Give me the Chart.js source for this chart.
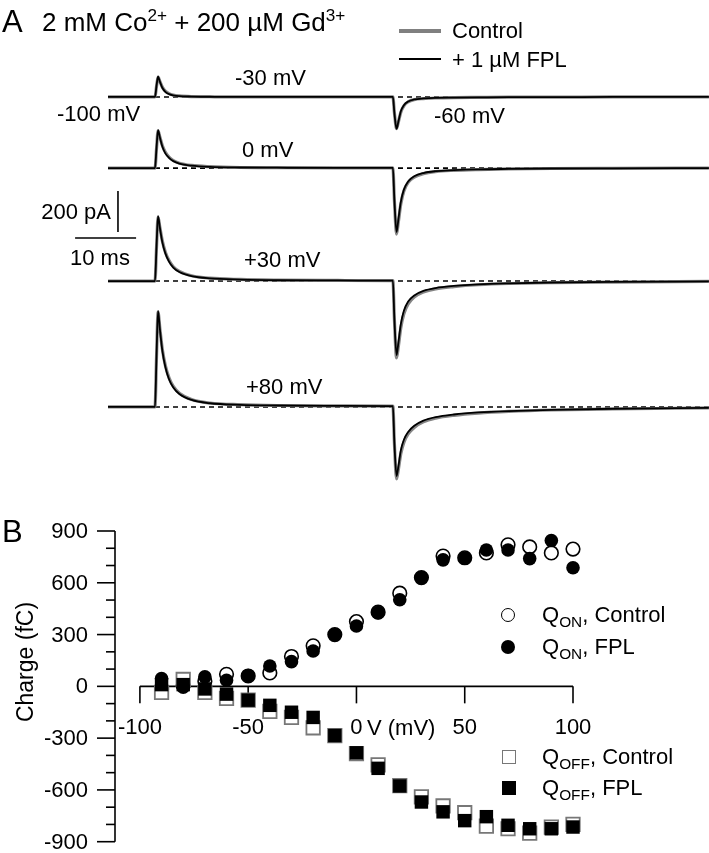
<!DOCTYPE html>
<html>
<head>
<meta charset="utf-8">
<script src="https://cdn.jsdelivr.net/npm/chart.js@4"></script>
<style>
  body { margin: 0; background: #fff; }
  #fig { position: relative; width: 709px; height: 853px; overflow: hidden; background: #fff;
         font-family: "Liberation Sans", Arial, sans-serif; color: #000; }
  #fig canvas { position: absolute; left: 0; }
  .t { position: absolute; white-space: nowrap; line-height: 1; font-size: 22px; }
  .t sup { font-size: 0.66em; position: relative; top: -0.6em; vertical-align: baseline; line-height: 0; }
  .t sub { font-size: 0.7em; position: relative; top: 0.35em; vertical-align: baseline; line-height: 0; }
  .key { position: absolute; box-sizing: border-box; }
</style>
</head>
<body>
<div id="fig">
  <canvas id="chartA" width="709" height="500" style="top:0"></canvas>
  <canvas id="chartB" width="709" height="353" style="top:500px"></canvas>

  <!-- panel A text -->
  <div class="t" style="left:2px;top:6px;font-size:31px">A</div>
  <div class="t" style="left:42px;top:9px;font-size:26px">2 mM Co<sup>2+</sup> + 200 µM Gd<sup>3+</sup></div>
  <div class="key" style="left:399px;top:29px;width:42px;height:4px;background:#808080"></div>
  <div class="t" style="left:452px;top:20px">Control</div>
  <div class="key" style="left:399px;top:58px;width:42px;height:2px;background:#000"></div>
  <div class="t" style="left:452px;top:49px">+ 1 µM FPL</div>
  <div class="t" style="left:235px;top:67px">-30 mV</div>
  <div class="t" style="left:57px;top:103px">-100 mV</div>
  <div class="t" style="left:434px;top:105px">-60 mV</div>
  <div class="t" style="left:242px;top:139px">0 mV</div>
  <div class="t" style="right:598px;top:201px">200 pA</div>
  <div class="t" style="left:70px;top:247px">10 ms</div>
  <div class="t" style="left:244px;top:249px">+30 mV</div>
  <div class="t" style="left:246px;top:376px">+80 mV</div>

  <!-- panel B text -->
  <div class="t" style="left:2px;top:516px;font-size:31px">B</div>
  <div class="t" style="left:25px;top:662px;font-size:23px;transform:translate(-50%,-50%) rotate(-90deg)">Charge (fC)</div>
  <div class="t" style="left:367px;top:717px">V (mV)</div>

  <div class="key" style="left:501px;top:608px;width:14px;height:14px;border:1.5px solid #000;border-radius:50%;background:#fff"></div>
  <div class="t" style="left:542px;top:604px">Q<sub>ON</sub>, Control</div>
  <div class="key" style="left:501px;top:640px;width:14px;height:14px;border-radius:50%;background:#000"></div>
  <div class="t" style="left:542px;top:636px">Q<sub>ON</sub>, FPL</div>
  <div class="key" style="left:502px;top:750px;width:14px;height:14px;border:1.8px solid #777;background:#fff"></div>
  <div class="t" style="left:542px;top:746px">Q<sub>OFF</sub>, Control</div>
  <div class="key" style="left:502px;top:781px;width:14px;height:14px;background:#000"></div>
  <div class="t" style="left:542px;top:777px">Q<sub>OFF</sub>, FPL</div>
</div>

<script>
// ---- Panel A: gating currents (pA), time in ms from the start of the step ----
const traceTime = [-7.7, -0.2, 0, 0.25, 0.5, 0.8, 1.2, 1.7, 2.3, 3, 4, 6, 9, 14, 20, 30, 38.8,
                   39, 39.25, 39.6, 39.9, 40.3, 40.8, 41.5, 42.5, 44, 46, 49, 53, 58, 65, 75, 90.8];

// -30 mV
const ctrlM30 = [0, 0, 0, 52, 97, 76, 48, 28, 16, 9, 5, 2, 1, 0, 0, 0, 0,
                 0, -78, -154, -122, -74, -43, -24, -13, -8, -5, -3, -2, -1, -1, 0, 0];
const fplM30 = [0, 0, 0, 55, 100, 75, 45, 25, 14, 8, 4, 2, 1, 0, 0, 0, 0,
                0, -80, -156, -120, -70, -40, -22, -12, -7, -4, -3, -2, -1, -1, 0, 0];
// 0 mV
const ctrl0 = [0, 0, 0, 95, 182, 152, 110, 77, 54, 37, 24, 13, 7, 3, 2, 1, 1,
               1, -160, -322, -262, -175, -112, -70, -44, -27, -17, -11, -7, -4, -2, -1, 0];
const fpl0 = [0, 0, 0, 100, 185, 150, 105, 72, 50, 34, 22, 12, 6, 3, 2, 1, 1,
              1, -160, -312, -250, -165, -105, -65, -40, -24, -15, -10, -6, -4, -2, -1, 0];
// +30 mV
const ctrlP30 = [0, 0, 0, 165, 312, 262, 196, 141, 100, 70, 47, 26, 14, 8, 5, 3, 2,
                 2, -190, -375, -318, -228, -160, -112, -78, -54, -38, -27, -18, -12, -8, -5, -2];
const fplP30 = [0, 0, 0, 170, 317, 260, 190, 135, 95, 66, 44, 24, 13, 7, 4, 3, 2,
                2, -190, -361, -300, -210, -145, -100, -70, -48, -34, -24, -16, -11, -7, -4, -2];
// +80 mV
const ctrlP80 = [0, 0, 0, 245, 462, 383, 282, 202, 142, 100, 67, 36, 19, 11, 7, 5, 4,
                 4, -180, -351, -305, -228, -173, -132, -100, -73, -55, -41, -30, -22, -15, -10, -5];
const fplP80 = [0, 0, 0, 250, 468, 380, 275, 195, 135, 95, 63, 34, 18, 10, 7, 5, 4,
                4, -180, -337, -290, -212, -160, -122, -92, -67, -50, -37, -27, -20, -14, -9, -5];

const scaleBarPA = 200;
const scaleBarMS = 10;

// ---- Panel B: Q-V ----
const voltages = [-90, -80, -70, -60, -50, -40, -30, -20, -10, 0, 10, 20, 30, 40, 50, 60, 70, 80, 90, 100];
const qOnControl = [-15, 5, 30, 70, 60, 78, 173, 235, 300, 375, 430, 540, 630, 755, 745, 773, 820, 808, 773, 795];
const qOnFpl = [45, -5, 55, 35, 62, 118, 143, 205, 300, 350, 427, 502, 630, 733, 744, 790, 790, 740, 845, 687];
const qOffControl = [-35, 40, -35, -70, -80, -145, -180, -240, -285, -390, -455, -575, -640, -693, -732, -810, -825, -850, -815, -800];
const qOffFpl = [10, 10, -15, -45, -80, -110, -150, -180, -285, -385, -475, -577, -670, -727, -778, -755, -805, -825, -825, -815];

const xTicks = [-100, -50, 0, 50, 100];
const yTicks = [-900, -600, -300, 0, 300, 600, 900];
const yMinorStep = 100;

// layout of panel A (chart units)
const traceOffsets = [-473, -820, -1371, -1985];
const FONT = '"Liberation Sans", Arial, sans-serif';

function buildTraceDatasets() {
  const pairs = [[ctrlM30, fplM30], [ctrl0, fpl0], [ctrlP30, fplP30], [ctrlP80, fplP80]];
  const tEnd = traceTime[traceTime.length - 1];
  const out = [];
  pairs.forEach(([ctrl, fpl], i) => {
    const off = traceOffsets[i];
    out.push({
      data: [{ x: 0, y: off }, { x: tEnd, y: off }],
      borderColor: '#000', borderWidth: 1.6, borderDash: [5, 4], order: 3,
    });
    out.push({
      data: traceTime.map((t, k) => ({ x: t, y: off + ctrl[k] })),
      borderColor: '#858585', borderWidth: 3.2, order: 2, cubicInterpolationMode: 'monotone',
    });
    out.push({
      data: traceTime.map((t, k) => ({ x: t, y: off + fpl[k] })),
      borderColor: '#000', borderWidth: 1.8, order: 1, cubicInterpolationMode: 'monotone',
    });
  });
  // scale bars
  const barX = -6.07, barTop = -932;
  out.push({ data: [{ x: barX, y: barTop }, { x: barX, y: barTop - scaleBarPA }], borderColor: '#000', borderWidth: 1.6 });
  const hY = -1161, hX = -13.1;
  out.push({ data: [{ x: hX, y: hY }, { x: hX + scaleBarMS, y: hY }], borderColor: '#000', borderWidth: 1.6 });
  return out;
}

new Chart(document.getElementById('chartA'), {
  type: 'line',
  data: { datasets: buildTraceDatasets() },
  options: {
    responsive: false,
    animation: false,
    events: [],
    layout: { padding: 0 },
    elements: { point: { radius: 0 }, line: { fill: false, tension: 0 } },
    datasets: { line: { clip: false } },
    plugins: { legend: { display: false }, tooltip: { enabled: false } },
    scales: {
      x: { type: 'linear', min: -25.41, max: 90.82, display: false },
      y: { type: 'linear', min: -2439, max: 0, display: false },
    },
  },
});

// axes of the Q-V plot drawn from the chart's own scales
const qvAxes = {
  id: 'qvAxes',
  beforeDatasetsDraw(chart) {
    const { ctx, scales: { x, y } } = chart;
    const left = x.getPixelForValue(x.min);
    ctx.save();
    ctx.strokeStyle = '#000';
    ctx.fillStyle = '#000';
    ctx.lineWidth = 1.6;
    ctx.font = '22px ' + FONT;

    // y axis
    ctx.beginPath();
    ctx.moveTo(left, y.getPixelForValue(yTicks[yTicks.length - 1]));
    ctx.lineTo(left, y.getPixelForValue(yTicks[0]));
    ctx.stroke();
    for (let q = yTicks[0]; q <= yTicks[yTicks.length - 1]; q += yMinorStep) {
      const py = y.getPixelForValue(q);
      const len = yTicks.includes(q) ? 18 : 9;
      ctx.beginPath();
      ctx.moveTo(left - len, py);
      ctx.lineTo(left, py);
      ctx.stroke();
    }
    ctx.textAlign = 'right';
    ctx.textBaseline = 'middle';
    yTicks.forEach(q => ctx.fillText(String(q), left - 27, y.getPixelForValue(q) + 1));

    // x axis at Q = 0
    const y0 = y.getPixelForValue(0);
    ctx.beginPath();
    ctx.moveTo(x.getPixelForValue(xTicks[0]), y0);
    ctx.lineTo(x.getPixelForValue(xTicks[xTicks.length - 1]), y0);
    ctx.stroke();
    ctx.textAlign = 'center';
    xTicks.forEach(v => {
      const px = x.getPixelForValue(v);
      ctx.beginPath();
      ctx.moveTo(px, y0);
      ctx.lineTo(px, y0 + 17);
      ctx.stroke();
      ctx.fillText(String(v), px, y0 + 42);
    });
    ctx.restore();
  },
};

const toXY = arr => voltages.map((v, i) => ({ x: v, y: arr[i] }));

new Chart(document.getElementById('chartB'), {
  type: 'scatter',
  data: {
    datasets: [
      { data: toXY(qOnControl), pointStyle: 'circle', pointRadius: 6.8, backgroundColor: '#fff', borderColor: '#000', borderWidth: 1.6, order: 4 },
      { data: toXY(qOffControl), pointStyle: 'rect', pointRadius: 9.5, backgroundColor: '#fff', borderColor: '#777', borderWidth: 1.8, order: 3 },
      { data: toXY(qOnFpl), pointStyle: 'circle', pointRadius: 6.8, backgroundColor: '#000', borderColor: '#000', borderWidth: 0, order: 2 },
      { data: toXY(qOffFpl), pointStyle: 'rect', pointRadius: 9.5, backgroundColor: '#000', borderColor: '#000', borderWidth: 0, order: 1 },
    ],
  },
  options: {
    responsive: false,
    animation: false,
    events: [],
    layout: { padding: { left: 115, right: 136, top: 31, bottom: 10 } },
    datasets: { scatter: { clip: false } },
    plugins: { legend: { display: false }, tooltip: { enabled: false } },
    scales: {
      x: { type: 'linear', min: -111.5, max: 100, display: false },
      y: { type: 'linear', min: -900, max: 900, display: false },
    },
  },
  plugins: [qvAxes],
});
</script>
</body>
</html>
